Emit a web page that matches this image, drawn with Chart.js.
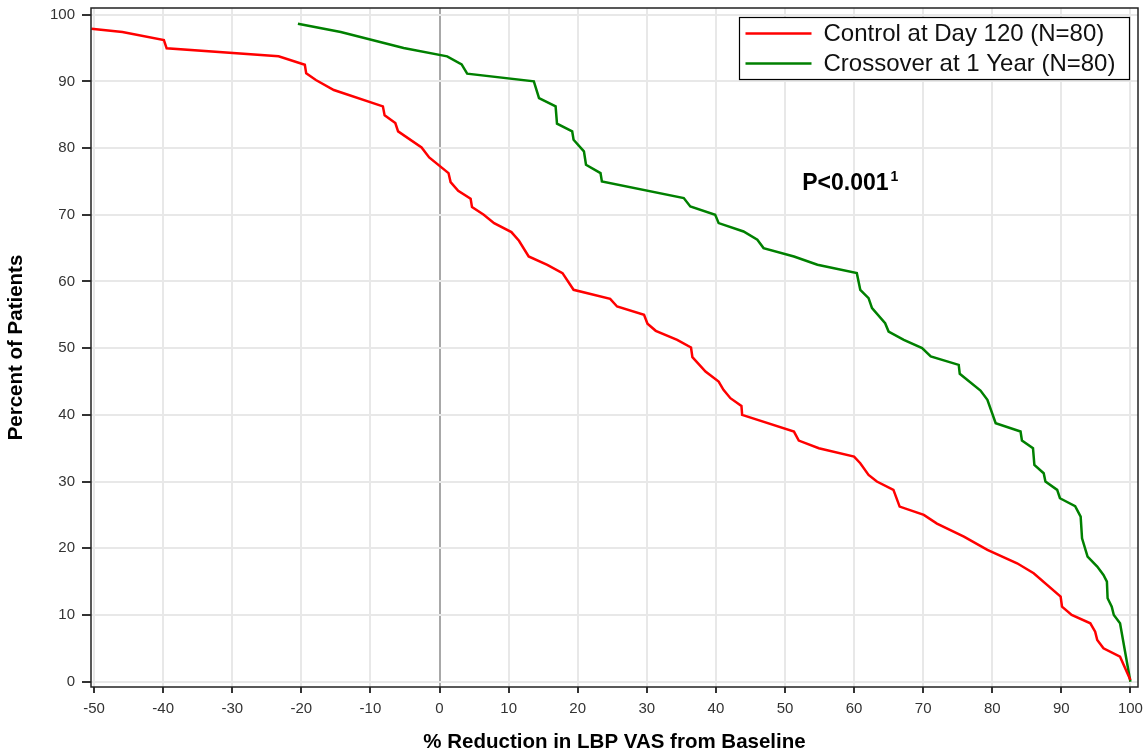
<!DOCTYPE html>
<html>
<head>
<meta charset="utf-8">
<script src="https://cdn.jsdelivr.net/npm/chart.js@4"></script>
<style>
  html, body { margin: 0; padding: 0; background: #fff; }
  #wrap { width: 1147px; height: 753px; }
</style>
</head>
<body>
<div id="wrap"><canvas id="chart"></canvas></div>
<script>
// cumulative % of patients reaching each % reduction
const controlX = [-50.4, -45.9, -39.9, -39.5, -23.3, -19.5, -19.3, -17.9, -15.3, -8.2, -7.95, -6.4, -6.0, -2.6, -1.5, 1.3, 1.6, 2.7, 4.5, 4.7, 6.4, 7.9, 10.4, 11.5, 12.9, 15.6, 17.8, 19.4, 24.7, 25.7, 29.6, 30.1, 31.3, 34.4, 36.4, 36.6, 38.5, 40.4, 41.1, 42.1, 43.7, 43.8, 51.3, 52.0, 54.9, 60.0, 60.9, 62.1, 63.3, 65.7, 66.6, 70.1, 72.0, 75.9, 79.3, 83.6, 86.0, 89.9, 90.1, 91.5, 94.2, 94.9, 95.2, 96.1, 98.5, 100];
const controlY = [97.9, 97.4, 96.2, 94.95, 93.75, 92.5, 91.2, 90.2, 88.7, 86.25, 84.9, 83.75, 82.5, 80.1, 78.6, 76.25, 74.9, 73.6, 72.4, 71.15, 70.0, 68.75, 67.4, 66.1, 63.75, 62.5, 61.25, 58.75, 57.4, 56.25, 55.0, 53.65, 52.6, 51.25, 50.1, 48.65, 46.5, 45.0, 43.75, 42.5, 41.35, 40.0, 37.5, 36.15, 35.0, 33.75, 32.75, 31.0, 30.0, 28.75, 26.25, 25.0, 23.7, 21.75, 19.75, 17.75, 16.25, 12.75, 11.25, 10.0, 8.75, 7.5, 6.25, 5.0, 3.75, 0.25];

const crossoverX = [-20.5, -14.3, -5.2, 1.1, 3.2, 4.0, 13.65, 14.4, 16.8, 17.0, 19.2, 19.4, 20.9, 21.2, 23.3, 23.5, 35.35, 36.3, 39.9, 40.4, 44.0, 46.0, 46.9, 51.3, 54.7, 60.4, 60.9, 62.1, 62.6, 64.5, 65.0, 67.2, 69.85, 71.1, 75.15, 75.3, 78.3, 79.3, 80.5, 84.1, 84.3, 85.9, 86.1, 87.45, 87.7, 89.4, 89.8, 92.0, 92.8, 93.0, 93.8, 95.2, 96.1, 96.6, 96.7, 97.3, 97.6, 98.5, 100];
const crossoverY = [98.65, 97.4, 95.0, 93.75, 92.55, 91.15, 90.0, 87.5, 86.25, 83.65, 82.5, 81.25, 79.5, 77.5, 76.25, 75.0, 72.5, 71.25, 70.0, 68.75, 67.5, 66.25, 65.0, 63.75, 62.5, 61.25, 58.75, 57.5, 56.0, 53.75, 52.5, 51.25, 50.0, 48.75, 47.5, 46.15, 43.65, 42.25, 38.75, 37.5, 36.15, 35.0, 32.5, 31.25, 30.0, 28.75, 27.5, 26.3, 24.75, 21.5, 18.75, 17.25, 16.0, 15.0, 12.5, 11.25, 10.0, 8.75, 0.0];

const xTicks = [-50, -40, -30, -20, -10, 0, 10, 20, 30, 40, 50, 60, 70, 80, 90, 100];
const yTicks = [0, 10, 20, 30, 40, 50, 60, 70, 80, 90, 100];

const seriesLabels = ["Control at Day 120 (N=80)", "Crossover at 1 Year (N=80)"];
const pValueText = "P<0.001";
const pValueNote = "1";

const FONT = "'Liberation Sans', Arial, sans-serif";

function toPoints(xs, ys) {
    return xs.map((x, i) => ({ x: x, y: ys[i] }));
}

// no automatic label padding, the layout padding decides the plot box
function noScalePadding(s) {
    s.paddingTop = 0;
    s.paddingBottom = 0;
    s.paddingLeft = 0;
    s.paddingRight = 0;
}

// frame, legend box and p-value text
const decorPlugin = {
    id: "decor",
    afterDraw(chart) {
        const ctx = chart.ctx;
        const a = chart.chartArea;
        ctx.save();
        ctx.strokeStyle = "#222";
        ctx.lineWidth = 1.5;
        ctx.strokeRect(a.left, a.top, a.right - a.left, a.bottom - a.top);

        // legend
        const bx = 739.5, by = 17.5, bw = 390, bh = 62;
        ctx.fillStyle = "#fff";
        ctx.fillRect(bx, by, bw, bh);
        ctx.strokeStyle = "#000";
        ctx.lineWidth = 1.2;
        ctx.strokeRect(bx, by, bw, bh);
        ctx.font = "24px " + FONT;
        ctx.textBaseline = "middle";
        chart.data.datasets.forEach((ds, i) => {
            const yy = by + 16 + i * 30;
            ctx.strokeStyle = ds.borderColor;
            ctx.lineWidth = 2.5;
            ctx.beginPath();
            ctx.moveTo(bx + 6, yy);
            ctx.lineTo(bx + 72, yy);
            ctx.stroke();
            ctx.fillStyle = "#111";
            ctx.fillText(ds.label, bx + 84, yy + 1);
        });

        // p-value
        const px = chart.scales.x.getPixelForValue(52.5);
        const py = chart.scales.y.getPixelForValue(74.6);
        ctx.fillStyle = "#000";
        ctx.font = "bold 23px " + FONT;
        ctx.textBaseline = "middle";
        ctx.fillText(pValueText, px, py);
        const w = ctx.measureText(pValueText).width;
        ctx.font = "bold 14px " + FONT;
        ctx.fillText(pValueNote, px + w + 2, py - 7);
        ctx.restore();
    },
};

new Chart(document.getElementById("chart"), {
    type: "line",
    data: {
        datasets: [
            {
                label: seriesLabels[0],
                data: toPoints(controlX, controlY),
                borderColor: "#ff0000",
                borderWidth: 2.5,
                pointRadius: 0,
                tension: 0,
                fill: false,
            },
            {
                label: seriesLabels[1],
                data: toPoints(crossoverX, crossoverY),
                borderColor: "#008000",
                borderWidth: 2.5,
                pointRadius: 0,
                tension: 0,
                fill: false,
            },
        ],
    },
    options: {
        responsive: true,
        maintainAspectRatio: false,
        animation: false,
        layout: { padding: { top: 8, right: 9, left: 0, bottom: 0 } },
        plugins: {
            legend: { display: false },
            tooltip: { enabled: false },
        },
        scales: {
            x: {
                type: "linear",
                min: -50.45,
                max: 101.1,
                afterBuildTicks: (s) => { s.ticks = xTicks.map((v) => ({ value: v })); },
                afterFit: (s) => { s.height = 66; noScalePadding(s); },
                grid: {
                    color: (c) => (c.tick && c.tick.value === 0 ? "#a8a8a8" : "#e8e8e8"),
                    lineWidth: 2,
                    tickColor: "#333",
                    tickLength: 6,
                },
                border: { display: false },
                ticks: {
                    color: "#333",
                    font: { family: FONT, size: 15 },
                    padding: 7,
                    maxRotation: 0,
                },
                title: {
                    display: true,
                    text: "% Reduction in LBP VAS from Baseline",
                    color: "#000",
                    font: { family: FONT, size: 20.5, weight: "bold" },
                    padding: { top: 2, bottom: -2 },
                },
            },
            y: {
                min: -0.8,
                max: 101,
                afterBuildTicks: (s) => { s.ticks = yTicks.map((v) => ({ value: v })); },
                afterFit: (s) => { s.width = 91; noScalePadding(s); },
                grid: {
                    color: "#e8e8e8",
                    lineWidth: 2,
                    tickColor: "#333",
                    tickLength: 9,
                },
                border: { display: false },
                ticks: {
                    color: "#333",
                    font: { family: FONT, size: 15 },
                    padding: 7,
                },
                title: {
                    display: true,
                    text: "Percent of Patients",
                    color: "#000",
                    font: { family: FONT, size: 20.5, weight: "bold" },
                    padding: { bottom: 0 },
                },
            },
        },
    },
    plugins: [decorPlugin],
});
</script>
</body>
</html>
